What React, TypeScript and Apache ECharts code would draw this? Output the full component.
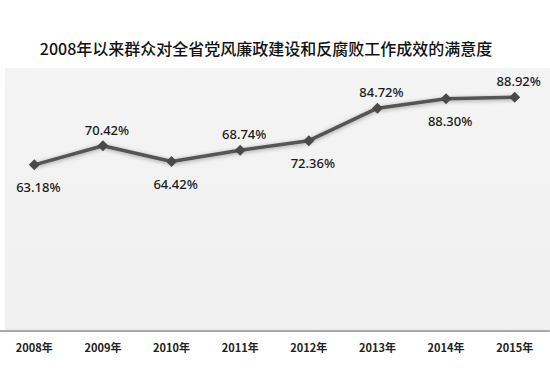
import React, { useEffect, useRef } from "react";
import * as echarts from "echarts";

const title = "2008年以来群众对全省党风廉政建设和反腐败工作成效的满意度";
const categories = ["2008年", "2009年", "2010年", "2011年", "2012年", "2013年", "2014年", "2015年"];
const values = [63.18, 70.42, 64.42, 68.74, 72.36, 84.72, 88.3, 88.92];
const labelPositions = ["bottom", "top", "bottom", "top", "bottom", "top", "bottom", "top"];

export default function App() {
  const ref = useRef<HTMLDivElement>(null);
  useEffect(() => {
    if (!ref.current) return;
    const chart = echarts.init(ref.current, undefined, { renderer: "svg" });
    chart.setOption({
      animation: false,
      backgroundColor: "#ffffff",
      title: {
        text: title,
        left: 261,
        textAlign: "center",
        top: 35,
        textStyle: {
          fontFamily: "Noto Sans CJK SC",
          fontSize: 16,
          fontWeight: 500,
          color: "#111",
        },
      },
      graphic: [
        {
          type: "rect",
          silent: true,
          z: -10,
          shape: { x: 5, y: 68, width: 545, height: 263 },
          style: {
            fill: new echarts.graphic.LinearGradient(0, 0, 0, 1, [
              { offset: 0, color: "#f4f4f4" },
              { offset: 1, color: "#f0f0f0" },
            ]),
          },
        },
      ],
      grid: { left: 0, right: 1, top: 68, bottom: 52 },
      xAxis: {
        type: "category",
        data: categories,
        boundaryGap: true,
        axisLine: { show: true, lineStyle: { color: "#a9a9a9", width: 2 } },
        axisTick: { show: false },
        axisLabel: {
          margin: 10,
          fontFamily: "Noto Sans CJK SC",
          fontSize: 11,
          fontWeight: "bold",
          color: "#222",
        },
      },
      yAxis: {
        type: "value",
        min: 0,
        max: 100,
        show: false,
        splitLine: { show: false },
      },
      series: [
        {
          type: "line",
          data: values.map((v, i) => ({
            value: v,
            label: {
              position: labelPositions[i],
              distance: labelPositions[i] === "top" ? 4 : 10,
              offset: [4, 0],
            },
          })),
          symbol: "diamond",
          symbolSize: 11,
          itemStyle: { color: "#4a4a4a" },
          lineStyle: {
            color: "#555555",
            width: 3.5,
            shadowBlur: 4,
            shadowColor: "rgba(0,0,0,0.35)",
            shadowOffsetY: 1,
          },
          label: {
            show: true,
            formatter: (p: any) => p.value.toFixed(2) + "%",
            fontFamily: "Noto Sans",
            fontSize: 13,
            fontWeight: 500,
            color: "#1a1a1a",
          },
        },
      ],
    });
    return () => chart.dispose();
  }, []);
  return (
    <div
      ref={ref}
      style={{ position: "fixed", left: 0, top: 0, width: 550, height: 383 }}
    />
  );
}
